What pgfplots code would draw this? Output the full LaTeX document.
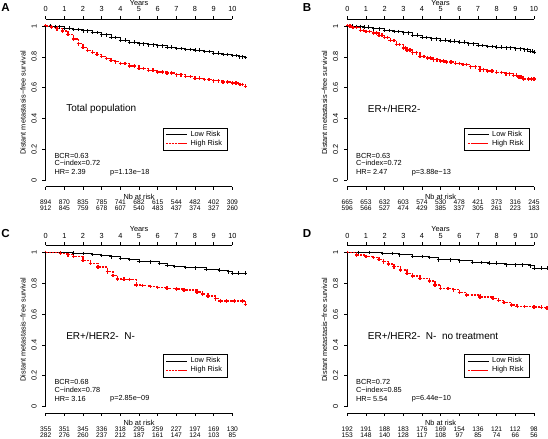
\documentclass[border=0pt]{standalone}
\usepackage{pgfplots}
\pgfplotsset{compat=1.18}
\usepackage{fontspec}
\setmainfont{Liberation Sans}
\newcommand\sz{\fontsize{5.5}{6.5}\selectfont}
\newcommand\rk{\fontsize{5}{6}\selectfont}
\newcommand\tsz{\fontsize{7.5}{9}\selectfont}
\newcommand\lsz{\bfseries\fontsize{8.7}{10}\selectfont}
\pgfplotsset{
  legend image code/.code={\path (-4pt,0pt) -- (11.75pt,0pt); \draw[#1] (0pt,0pt) -- (11.25pt,0pt);},
  km/.style={anchor=south west, x=14pt, y=115.5pt, xmin=0, ymin=0, ymax=1, hide axis, clip=false,
    legend style={at={(axis cs:6.265,0.34)}, anchor=north west, draw=black, line width=0.4pt,
      font=\sz, inner xsep=2pt, inner ysep=1.6pt, nodes={inner xsep=2pt, inner ysep=0.7pt}},
    legend cell align=left},
  low/.style={black, const plot, mark=+, mark size=1.35pt, line width=0.65pt},
  high/.style={color={rgb,255:red,255;green,0;blue,0}, const plot, dash pattern=on 1.5pt off 0.8pt, mark=+, mark size=1.35pt,
    mark options={solid}, line width=1pt},
}
\newcommand\kmframe{%
  \draw[line width=0.4pt] (0,0) -- (0,1);
  \foreach \v in {0,0.2,0.4,0.6,0.8,1}{
    \draw[line width=0.4pt] (0,\v) -- (-0.19,\v);
    \node[rotate=90,font=\sz,inner sep=0pt] at (-0.627,\v) {\v};}
  \draw[line width=0.4pt] (0,1.0455) -- (10,1.0455);
  \draw[line width=0.4pt] (0,-0.0435) -- (10,-0.0435);
  \foreach \t in {0,...,10}{
    \draw[line width=0.4pt] (\t,1.0455) -- (\t,1.067);
    \node[font=\sz,inner sep=0pt] at (\t,1.108) {\t};
    \draw[line width=0.4pt] (\t,-0.0435) -- (\t,-0.0649);}
  \node[font=\sz,inner sep=0pt] at (5,1.151) {Years};
  \node[font=\sz,inner sep=0pt] at (5,-0.108) {Nb at risk};
  \node[rotate=90,font=\sz,inner sep=0pt] at (-1.216,0.5) {Distant metastasis−free survival};
}
\newcommand\kmstats[4]{%
  \node[anchor=west,font=\sz,inner sep=0pt] at (0.46,0.158) {BCR=#1};
  \node[anchor=west,font=\sz,inner sep=0pt] at (0.46,0.108) {C−index=#2};
  \node[anchor=west,font=\sz,inner sep=0pt] at (0.46,0.05) {HR= #3};
  \node[anchor=west,font=\sz,inner sep=0pt] at (3.44,0.05) {p=#4};
}
\newcommand\kmrisk[2]{%
  \foreach \n [count=\i from 0] in {#1} {\node[font=\rk,inner sep=0pt] at (\i,-0.146) {\n};}
  \foreach \n [count=\i from 0] in {#2} {\node[font=\rk,inner sep=0pt] at (\i,-0.184) {\n};}
}
\newcommand\kmtitle[2]{%
  \node[anchor=west,font=\tsz,inner sep=0pt] at (1.087,0.461) {#2};
  \node[font=\lsz,inner sep=0pt] at (-2.15,1.123) {#1};
}
\begin{document}
\begin{tikzpicture}[x=0.75pt,y=-0.75pt]
\useasboundingbox (0,0) rectangle (548,438);
\coordinate (oA) at (45.7,180);
\coordinate (oB) at (347.3,180);
\coordinate (oC) at (45.7,406.5);
\coordinate (oD) at (347.3,406.5);

% ---------------- A
\begin{axis}[km, at={(oA)}, xmax=10.7]
\addplot[low] coordinates {(0,1) (0.25,1) (0.5,0.995) (0.75,0.995) (1,0.987) (1.25,0.987) (1.5,0.978) (1.75,0.978) (2,0.968) (2.25,0.968) (2.5,0.957) (2.75,0.957) (3,0.942) (3.25,0.942) (3.5,0.926) (3.75,0.926) (4,0.908) (4.25,0.908) (4.5,0.896) (4.75,0.896) (5,0.885) (5.25,0.885) (5.5,0.878) (5.75,0.878) (6,0.871) (6.25,0.871) (6.5,0.862) (6.75,0.862) (7,0.853) (7.25,0.853) (7.5,0.848) (7.75,0.848) (8,0.844) (8.25,0.844) (8.5,0.834) (8.75,0.834) (9,0.824) (9.25,0.824) (9.5,0.816) (9.75,0.816) (10,0.808) (10.2,0.808) (10.4,0.8) (10.55,0.8) (10.7,0.795)};
\addlegendentry{Low Risk}
\addplot[high] coordinates {(0,1) (0.3,0.993) (0.6,0.982) (0.9,0.968) (1.2,0.945) (1.5,0.915) (1.75,0.885) (2,0.86) (2.25,0.843) (2.5,0.828) (2.75,0.814) (3,0.801) (3.25,0.789) (3.5,0.778) (3.75,0.768) (4,0.757) (4.25,0.757) (4.5,0.74) (4.75,0.74) (5,0.725) (5.25,0.725) (5.5,0.713) (5.75,0.713) (6,0.702) (6.25,0.702) (6.5,0.694) (6.75,0.694) (7,0.683) (7.25,0.683) (7.5,0.671) (7.75,0.671) (8,0.661) (8.25,0.661) (8.5,0.652) (8.75,0.652) (9,0.644) (9.25,0.644) (9.5,0.636) (9.75,0.636) (10,0.629) (10.2,0.629) (10.4,0.62) (10.55,0.62) (10.7,0.608)};
\addlegendentry{High Risk}
\end{axis}
\begin{scope}[shift={(oA)},x=14pt,y=115.5pt]
\kmframe
\kmstats{0.63}{0.72}{2.39}{1.13e−18}
\kmrisk{894,870,835,785,741,682,615,544,482,402,309}{912,845,759,678,607,540,483,437,374,327,260}
\kmtitle{A}{Total population}
\end{scope}

% ---------------- B
\begin{axis}[km, at={(oB)}, xmax=10.7]
\addplot[low] coordinates {(0,1) (0.25,1) (0.5,0.997) (0.7,0.997) (0.9,0.993) (1.15,0.993) (1.4,0.982) (1.7,0.982) (2,0.972) (2.25,0.972) (2.5,0.963) (2.75,0.963) (3,0.956) (3.25,0.956) (3.5,0.94) (3.75,0.94) (4,0.925) (4.25,0.925) (4.5,0.917) (4.75,0.917) (5,0.908) (5.25,0.908) (5.5,0.903) (5.75,0.903) (6,0.895) (6.25,0.895) (6.5,0.884) (6.75,0.884) (7,0.874) (7.25,0.874) (7.5,0.867) (7.75,0.867) (8,0.864) (8.25,0.864) (8.5,0.859) (8.75,0.859) (9,0.852) (9.25,0.852) (9.5,0.846) (9.65,0.846) (9.8,0.838) (9.9,0.838) (10,0.83)};
\addlegendentry{Low Risk}
\addplot[high] coordinates {(0,1) (0.15,1) (0.3,0.99) (0.5,0.99) (0.7,0.972) (0.85,0.972) (1.0,0.965) (1.2,0.965) (1.4,0.955) (1.55,0.955) (1.7,0.94) (1.85,0.94) (2,0.925) (2.15,0.925) (2.3,0.905) (2.5,0.905) (2.65,0.879) (2.8,0.879) (3,0.858) (3.1,0.858) (3.2,0.845) (3.35,0.845) (3.5,0.826) (3.7,0.826) (3.9,0.803) (4.1,0.803) (4.3,0.792) (4.45,0.792) (4.6,0.781) (4.8,0.781) (5,0.772) (5.15,0.772) (5.3,0.766) (5.55,0.766) (5.8,0.757) (6,0.757) (6.2,0.749) (6.4,0.749) (6.6,0.735) (6.85,0.735) (7.1,0.716) (7.3,0.716) (7.5,0.708) (7.75,0.708) (8,0.699) (8.25,0.699) (8.5,0.69) (8.7,0.69) (8.9,0.68) (9.05,0.68) (9.2,0.668) (9.3,0.668) (9.45,0.656) (9.7,0.656) (9.85,0.656) (10,0.656)};
\addlegendentry{High Risk}
\end{axis}
\begin{scope}[shift={(oB)},x=14pt,y=115.5pt]
\kmframe
\kmstats{0.63}{0.72}{2.47}{3.88e−13}
\kmrisk{665,653,632,603,574,530,478,421,373,316,245}{596,566,527,474,429,385,337,305,261,223,183}
\kmtitle{B}{ER+/HER2-}
\end{scope}

% ---------------- C
\begin{axis}[km, at={(oC)}, xmax=10.7]
\addplot[low] coordinates {(0,1) (0.8,0.998) (1.5,0.996) (2,0.993) (2.5,0.986) (3,0.981) (3.5,0.972) (4,0.962) (4.5,0.954) (5,0.945) (5.6,0.94) (6.1,0.93) (6.5,0.917) (6.9,0.91) (7.5,0.903) (8,0.9) (8.6,0.893) (9.3,0.886) (9.8,0.875) (10,0.866) (10.35,0.866) (10.7,0.865)};
\addlegendentry{Low Risk}
\addplot[high] coordinates {(0,1) (0.8,0.995) (1.2,0.985) (1.5,0.973) (2,0.95) (2.4,0.93) (2.8,0.905) (3.3,0.875) (3.6,0.85) (3.85,0.827) (4.2,0.826) (4.5,0.825) (4.85,0.79) (5.2,0.785) (5.6,0.779) (6,0.774) (6.5,0.768) (7,0.762) (7.4,0.757) (8.1,0.743) (8.4,0.73) (8.7,0.718) (9.1,0.7) (9.35,0.686) (9.7,0.686) (10.1,0.686) (10.55,0.686) (10.7,0.664)};
\addlegendentry{High Risk}
\end{axis}
\begin{scope}[shift={(oC)},x=14pt,y=115.5pt]
\kmframe
\kmstats{0.68}{0.78}{3.16}{2.85e−09}
\kmrisk{355,351,345,336,318,295,259,227,197,169,130}{282,276,260,237,212,187,161,147,124,103,85}
\kmtitle{C}{ER+/HER2-\ \ N-}
\end{scope}

% ---------------- D
\begin{axis}[km, at={(oD)}, xmax=10.7]
\addplot[low] coordinates {(0,1) (0.6,1) (1.2,1) (1.9,0.994) (2.4,0.994) (2.8,0.985) (3.5,0.974) (4,0.974) (4.4,0.968) (4.9,0.953) (5.5,0.953) (6,0.946) (6.7,0.935) (7.2,0.935) (7.6,0.931) (8,0.931) (8.5,0.92) (9,0.92) (9.4,0.92) (9.8,0.914) (10,0.899) (10.4,0.899) (10.7,0.899)};
\addlegendentry{Low Risk}
\addplot[high] coordinates {(0,1) (0.5,0.984) (1,0.975) (1.4,0.967) (1.7,0.955) (1.95,0.94) (2.2,0.925) (2.5,0.907) (2.85,0.887) (3.2,0.865) (3.5,0.848) (3.9,0.833) (4.4,0.816) (4.7,0.79) (5,0.768) (5.4,0.765) (5.7,0.758) (6,0.742) (6.4,0.725) (7.1,0.71) (7.8,0.703) (8.1,0.69) (8.4,0.675) (8.8,0.66) (9.1,0.649) (9.5,0.649) (10,0.647) (10.4,0.645) (10.7,0.638)};
\addlegendentry{High Risk}
\end{axis}
\begin{scope}[shift={(oD)},x=14pt,y=115.5pt]
\kmframe
\kmstats{0.72}{0.85}{5.54}{6.44e−10}
\kmrisk{192,191,188,183,176,169,154,136,121,112,98}{153,148,140,128,117,108,97,85,74,66,56}
\kmtitle{D}{ER+/HER2-\ \ N-\ \ no treatment}
\end{scope}
\end{tikzpicture}
\end{document}
